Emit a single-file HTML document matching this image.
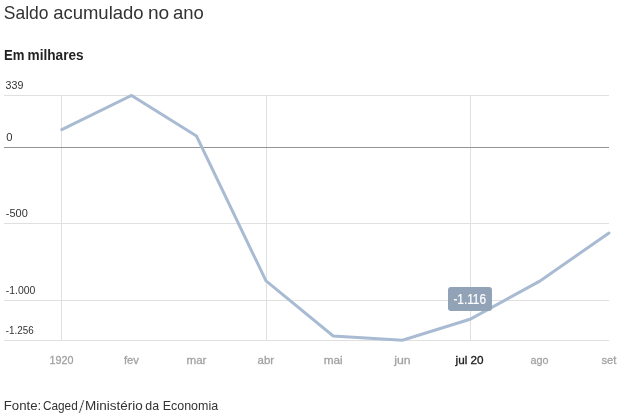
<!DOCTYPE html>
<html lang="pt-BR">
<head>
<meta charset="utf-8">
<title>Saldo acumulado no ano</title>
<style>
html,body{margin:0;padding:0;background:#fff;}
body{width:639px;height:418px;overflow:hidden;position:relative;font-family:"Liberation Sans",sans-serif;color:#333;}
svg{position:absolute;left:0;top:0;}
svg text{font-family:"Liberation Sans",sans-serif;}
</style>
</head>
<body>
<svg width="639" height="418" viewBox="0 0 639 418">
  <text id="title" y="18.8" font-size="18.4" fill="#333" lengthAdjust="spacingAndGlyphs"><tspan x="3.77" textLength="44.69" lengthAdjust="spacingAndGlyphs">Saldo</tspan> <tspan x="53.15" textLength="90.48" lengthAdjust="spacingAndGlyphs">acumulado</tspan> <tspan x="147.9" textLength="21.28" lengthAdjust="spacingAndGlyphs">no</tspan> <tspan x="173.05" textLength="30.87" lengthAdjust="spacingAndGlyphs">ano</tspan></text>
  <text id="sub" y="59.9" font-size="14.4" font-weight="bold" fill="#222"><tspan x="3.89" textLength="20.44" lengthAdjust="spacingAndGlyphs">Em</tspan> <tspan x="27.55" textLength="56.1" lengthAdjust="spacingAndGlyphs">milhares</tspan></text>
  <g shape-rendering="crispEdges" stroke="#e0e0e0" stroke-width="1">
    <line x1="4" x2="609" y1="95.5" y2="95.5"/>
    <line x1="4" x2="609" y1="223.5" y2="223.5"/>
    <line x1="4" x2="609" y1="300.5" y2="300.5"/>
    <line x1="4" x2="609" y1="340.5" y2="340.5"/>
    <line x1="61.5" x2="61.5" y1="95" y2="341"/>
    <line x1="266.5" x2="266.5" y1="95" y2="341"/>
    <line x1="470.5" x2="470.5" y1="95" y2="341"/>
    <line x1="4" x2="609" y1="147.5" y2="147.5" stroke="#939393"/>
  </g>
  <polyline fill="none" stroke="#a9bbd3" stroke-width="3" stroke-linejoin="miter" stroke-linecap="round"
    points="61.8,129.7 131.5,95.5 196.5,136 266,280.9 333.2,336 402.5,340.3 470,319.3 539.3,281.4 609,233"/>
  <g font-size="11.4" fill="#333" lengthAdjust="spacingAndGlyphs">
    <text x="5.6" y="89" textLength="17.8" lengthAdjust="spacingAndGlyphs">339</text>
    <text x="6.21" y="141" textLength="6.26" lengthAdjust="spacingAndGlyphs">0</text>
    <text x="5.78" y="217" textLength="21.99" lengthAdjust="spacingAndGlyphs">-500</text>
    <text x="5.8" y="294" textLength="29.6" lengthAdjust="spacingAndGlyphs">-1.000</text>
    <text x="5.83" y="334" textLength="27.86" lengthAdjust="spacingAndGlyphs">-1.256</text>
  </g>
  <g font-size="11.8" fill="#a2a2a2" stroke="#a2a2a2" stroke-width="0.3" text-anchor="middle">
    <text x="61.5" y="364" font-size="11.4" textLength="24" lengthAdjust="spacingAndGlyphs">1920</text>
    <text x="131.4" y="364" textLength="15" lengthAdjust="spacingAndGlyphs">fev</text>
    <text x="196.5" y="364" textLength="20" lengthAdjust="spacingAndGlyphs">mar</text>
    <text x="265.8" y="364" textLength="16.6" lengthAdjust="spacingAndGlyphs">abr</text>
    <text x="333.2" y="364" textLength="19" lengthAdjust="spacingAndGlyphs">mai</text>
    <text x="402.5" y="364" textLength="16.4" lengthAdjust="spacingAndGlyphs">jun</text>
    <text x="469.6" y="364" fill="#222" stroke="#222" stroke-width="0.35" textLength="28" lengthAdjust="spacingAndGlyphs">jul 20</text>
    <text x="539.4" y="364" textLength="18" lengthAdjust="spacingAndGlyphs">ago</text>
    <text x="609" y="364" textLength="15" lengthAdjust="spacingAndGlyphs">set</text>
  </g>
  <rect x="448" y="287" width="44" height="24" rx="3" ry="3" fill="#92a3b7"/>
  <text x="453.38" y="303.8" font-size="14.3" fill="#fff" stroke="#fff" stroke-width="0.2" textLength="32.62" lengthAdjust="spacingAndGlyphs">-1.116</text>
  <text id="src" y="409.8" font-size="12.6" fill="#333"><tspan x="3.75" textLength="37.48" lengthAdjust="spacingAndGlyphs">Fonte:</tspan> <tspan x="42.91" textLength="34.81" lengthAdjust="spacingAndGlyphs">Caged</tspan><tspan x="78.4" y="413.1" font-size="18.8" fill="#3c3c3c" stroke="#fff" stroke-width="0.55" textLength="6.1" lengthAdjust="spacingAndGlyphs">/</tspan><tspan x="85.03" y="409.8" textLength="57.72" lengthAdjust="spacingAndGlyphs">Ministério</tspan> <tspan x="145.31" textLength="13.76" lengthAdjust="spacingAndGlyphs">da</tspan> <tspan x="162.71" textLength="55.4" lengthAdjust="spacingAndGlyphs">Economia</tspan></text>
</svg>
</body>
</html>
